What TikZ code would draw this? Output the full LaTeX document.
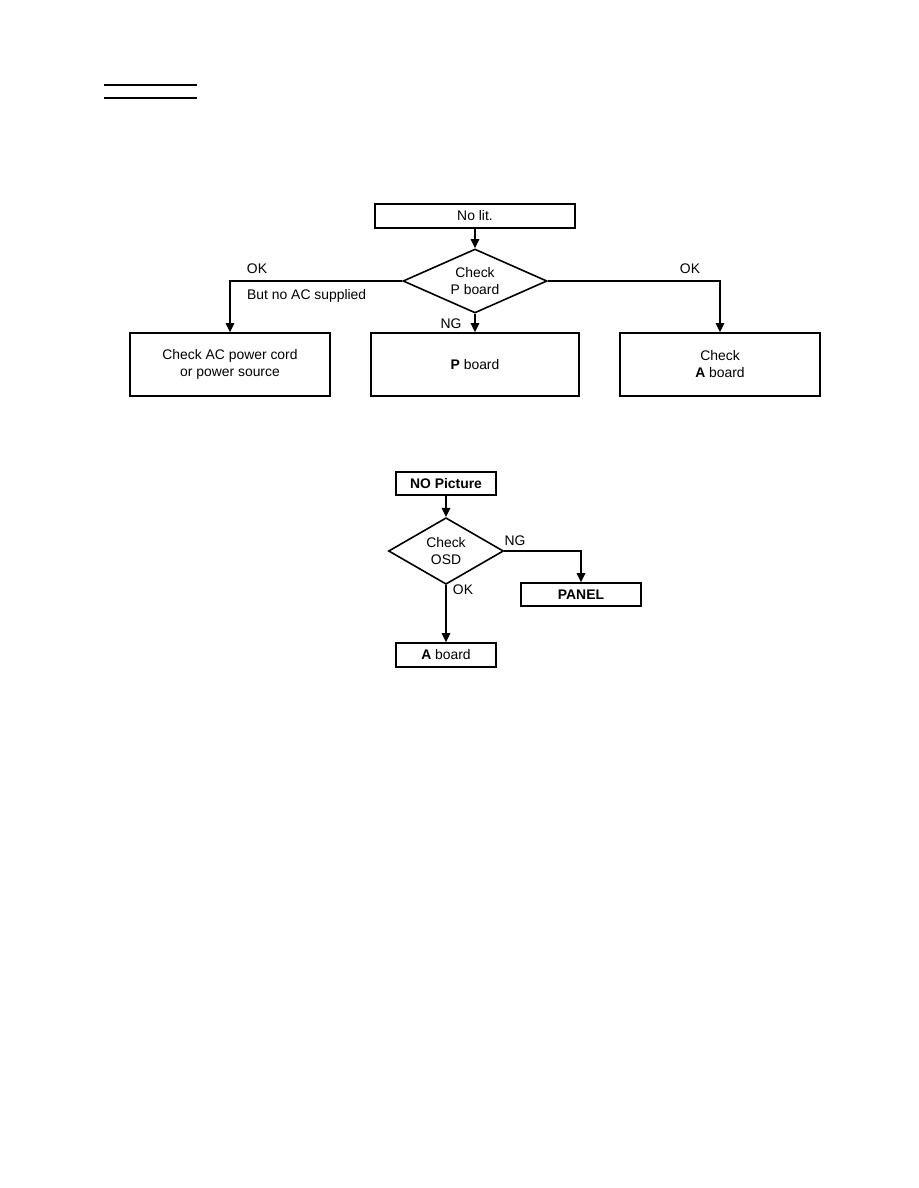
\documentclass[tikz,border=0pt]{standalone}
\usepackage{fontspec}
\setmainfont{Liberation Sans}
\usetikzlibrary{shapes.geometric,arrows.meta}
\begin{document}
\begin{tikzpicture}[x=1pt,y=-1pt,
  every node/.style={font=\fontsize{13.9}{17}\selectfont},
  box/.style={draw,line width=1.6pt,inner sep=0pt,align=center},
  dia/.style={draw,line width=1.6pt,diamond,inner sep=0pt,align=center},
  conn/.style={line width=1.6pt,-{Triangle[length=9pt,width=8.5pt]}},
  lbl/.style={inner sep=0pt}]
\useasboundingbox[fill=white] (0,0) rectangle (918,1188);
% underline
\coordinate (u1) at (104,85); \coordinate (u2) at (197,85);
\coordinate (u3) at (104,98); \coordinate (u4) at (197,98);
\draw[line width=1.5pt] (u1) -- (u2);
\draw[line width=1.5pt] (u3) -- (u4);
% chart 1
\node[box,minimum width=200pt,minimum height=24pt] (nolit) at (475,216) {No lit.};
\node[dia,minimum width=144pt,minimum height=64pt,aspect=2.25] (chkp) at (475,281) {Check\\P board};
\node[box,minimum width=200pt,minimum height=63pt] (ac) at (230,364.5) {Check AC power cord\\or power source};
\node[box,minimum width=208pt,minimum height=63pt] (pb) at (475,364.5) {\textbf{P} board};
\node[box,minimum width=200pt,minimum height=63pt] (ab) at (720,364.5) {Check\\\textbf{A} board};
\draw[conn] (nolit) -- (chkp);
\draw[conn] (chkp) -- (pb);
\draw[conn] (chkp.west) -| (ac.north);
\draw[conn] (chkp.east) -| (ab.north);
\node[lbl] (ok1) at (257,269) {OK};
\node[lbl,anchor=west] (nac) at (247,296) {But no AC supplied};
\node[lbl] (ok2) at (690,269) {OK};
\node[lbl] (ng1) at (451,324) {NG};
% chart 2
\node[box,minimum width=100pt,minimum height=23pt] (nop) at (446,483.5) {\textbf{NO Picture}};
\node[dia,minimum width=115pt,minimum height=62pt] (osd) at (446,551) {Check\\OSD};
\node[box,minimum width=120pt,minimum height=23pt] (panel) at (581,594.5) {\textbf{PANEL}};
\node[box,minimum width=100pt,minimum height=24pt] (a2) at (446,655) {\textbf{A} board};
\draw[conn] (nop) -- (osd);
\draw[conn] (osd.east) -| (panel.north);
\draw[conn] (osd.south) -- (a2.north);
\node[lbl] (ng2) at (515,541) {NG};
\node[lbl] (ok3) at (463,590) {OK};
\end{tikzpicture}
\end{document}
